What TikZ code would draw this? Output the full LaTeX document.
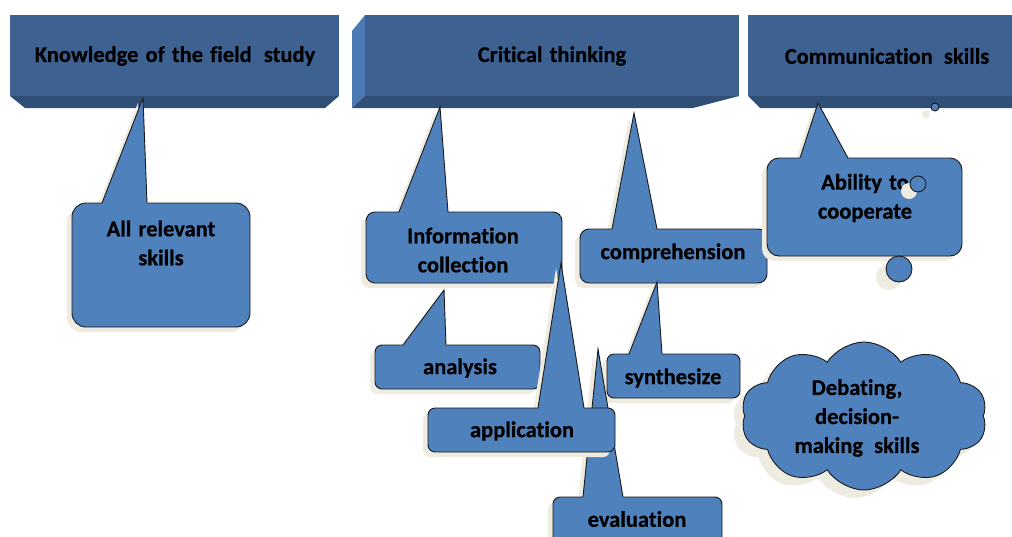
\documentclass[tikz,border=0pt]{standalone}
\usepackage{fontspec}
\setmainfont{Carlito}[WordSpace=1.4,Ligatures={NoCommon},BoldFeatures={FakeBold=0.6}]
\usetikzlibrary{shapes.symbols}
\definecolor{headc}{HTML}{3D6190}
\definecolor{headbot}{HTML}{2F4F76}
\definecolor{headside}{HTML}{4B7AB4}
\definecolor{callc}{HTML}{4F81BD}
\definecolor{shadowc}{HTML}{EEECE1}
\definecolor{outc}{HTML}{1A1A1A}
\tikzset{
  outl/.style={draw=outc,line width=0.9pt,line join=miter},
  lbl/.style={font=\bfseries\fontsize{22.5}{29}\selectfont,align=center,inner sep=0pt,text=black},
  hlbl/.style={font=\bfseries\fontsize{22.5}{26}\selectfont,align=center,inner sep=0pt,text=black},
  cloudbox/.style={cloud,cloud puffs=10,cloud puff arc=115,cloud ignores aspect,minimum width=246pt,minimum height=148pt,inner sep=0pt},
}
% x1,y1,x2,y2,bx1,bx2,tx,ty,r
\newcommand\cshape[9]{%
  \fill[cur,rounded corners=#9pt] (#1,#2) rectangle (#3,#4);
  \fill[cur] (#5,#2) -- (#7,#8) -- (#6,#2) -- cycle;}
\newcommand\mycallout[9]{%
  \colorlet{cur}{shadowc}%
  \begin{scope}[shift={(-5,5)}]\cshape{#1}{#2}{#3}{#4}{#5}{#6}{#7}{#8}{#9}\end{scope}
  \colorlet{cur}{callc}%
  \cshape{#1}{#2}{#3}{#4}{#5}{#6}{#7}{#8}{#9}
  \draw[outl,rounded corners=#9pt] (#6,#2) -- (#3,#2) -- (#3,#4) -- (#1,#4) -- (#1,#2) -- (#5,#2);
  \draw[outl] (#5,#2) -- (#7,#8) -- (#6,#2);}
\begin{document}
\begin{tikzpicture}[x=1pt,y=-1pt]
\clip (0,0) rectangle (1012,536);
\fill[white] (0,0) rectangle (1012,536);
% headers
\fill[headc] (10,15) rectangle (339,96);
\fill[headbot] (10,96) -- (339,96) -- (325,108) -- (25,108) -- cycle;
\node[hlbl] (know) at (175,56) {Knowledge of the field\hspace{5pt} study};
\fill[headside] (352,31) -- (365,15) -- (365,96) -- (352,108) -- cycle;
\fill[headc] (365,15) rectangle (739,96);
\fill[headbot] (365,96) -- (739,96) -- (693,108) -- (352,108) -- cycle;
\node[hlbl] (crit) at (552,56) {Critical thinking};
\fill[headc] (748,15) rectangle (1020,96);
\fill[headbot] (748,96) -- (1020,96) -- (1020,108) -- (760,108) -- cycle;
\node[hlbl] (comm) at (887,56) {Communication\hspace{4pt} skills};
% callouts
\mycallout{72}{203}{250}{327}{102}{147}{143}{98}{14}
\node[lbl] (allrel) at (161,243) {All relevant\\skills};
\mycallout{366}{212}{562}{283}{399}{448}{440}{107}{9}
\node[lbl] (info) at (463,250) {Information\\collection};
\mycallout{580}{229}{767}{283}{612}{657}{634}{113}{9}
\node[lbl] (compr) at (673,253) {comprehension};
\mycallout{767}{158}{962}{256}{800}{848}{818}{103}{12}
\node[lbl] (abil) at (865,198) {Ability to\\cooperate};
\mycallout{375}{345}{540}{389}{403}{446}{444}{290}{7}
\node[lbl] (anal) at (460,368) {analysis};
\mycallout{607}{354}{740}{398}{629}{662}{657}{282}{7}
\node[lbl] (synth) at (673,378) {synthesize};
\mycallout{553}{497}{722}{560}{583}{623}{598}{349}{7}
\node[lbl] (eval) at (637,519) {evaluation};
\mycallout{428}{408}{615}{452}{538}{584}{561}{263}{7}
\node[lbl] (appl) at (522,431) {application};
% thought cloud
\fill[shadowc] (926,114) circle (4);
\fill[shadowc] (909,191) circle (8);
\fill[shadowc] (889,277) circle (13);
\node[cloudbox,fill=shadowc] (cldsh) at (855,424) {};
\node[cloudbox,fill=callc,outl] (cld) at (864,416) {};
\node[circle,fill=callc,outl,minimum size=8pt,inner sep=0pt] (c1) at (935,107) {};
\node[circle,fill=callc,outl,minimum size=16pt,inner sep=0pt] (c2) at (918,184) {};
\node[circle,fill=callc,outl,minimum size=26pt,inner sep=0pt] (c3) at (899,269) {};
\node[lbl] (debate) at (857,418) {Debating,\\decision-\\making\hspace{4pt} skills};
\end{tikzpicture}
\end{document}
